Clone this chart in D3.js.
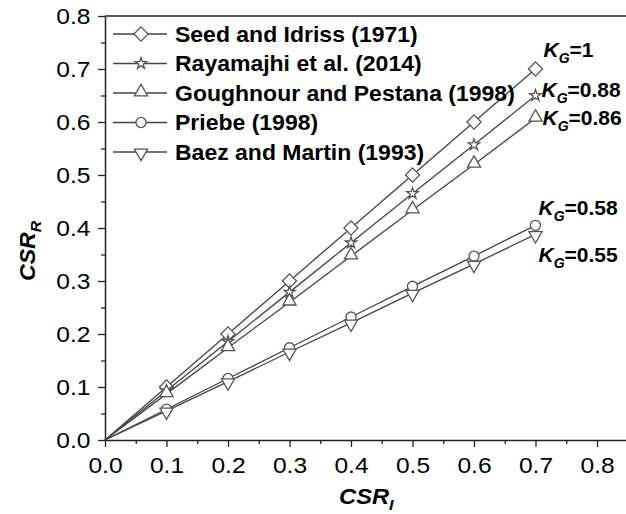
<!DOCTYPE html>
<html>
<head>
<meta charset="utf-8">
<script src="https://cdn.jsdelivr.net/npm/d3@7"></script>
<style>
  body { margin: 0; background: #fff; }
  text { font-family: "Liberation Sans", Arial, sans-serif; fill: #000; }
</style>
</head>
<body>
<script>
// data
var csrI = [0.0, 0.1, 0.2, 0.3, 0.4, 0.5, 0.6, 0.7];
var seedIdriss = [0, 0.100, 0.200, 0.300, 0.400, 0.500, 0.600, 0.700];
var rayamajhi = [0, 0.093, 0.186, 0.279, 0.372, 0.465, 0.557, 0.650];
var goughnour = [0, 0.087, 0.174, 0.260, 0.347, 0.434, 0.520, 0.607];
var priebe    = [0, 0.058, 0.116, 0.174, 0.232, 0.290, 0.347, 0.405];
var baez      = [0, 0.055, 0.110, 0.166, 0.221, 0.277, 0.332, 0.388];

var seriesNames = ["Seed and Idriss (1971)", "Rayamajhi et al. (2014)",
  "Goughnour and Pestana (1998)", "Priebe (1998)", "Baez and Martin (1993)"];
var seriesValues = [seedIdriss, rayamajhi, goughnour, priebe, baez];
var kgLabels = ["=1", "=0.88", "=0.86", "=0.58", "=0.55"];

var xTicks = [0, 0.1, 0.2, 0.3, 0.4, 0.5, 0.6, 0.7, 0.8];
var yTicks = [0, 0.1, 0.2, 0.3, 0.4, 0.5, 0.6, 0.7, 0.8];
var minorTicks = [0.05, 0.15, 0.25, 0.35, 0.45, 0.55, 0.65, 0.75];

// layout
var width = 626, height = 514;
var x = d3.scaleLinear().domain([0, 0.85]).range([105, 627.75]);
var y = d3.scaleLinear().domain([0, 0.8]).range([440, 16]);
var markers = ["diamond", "star", "triangle", "circle", "down"];
var kgOffsets = [[8, -12], [6, 1], [7, 7], [3, -10], [3, 28]];

var svg = d3.select("body").append("svg")
  .attr("width", width).attr("height", height);

// frame top line
svg.append("line")
  .attr("x1", x(0)).attr("x2", width).attr("y1", y(0.8)).attr("y2", y(0.8))
  .attr("stroke", "#222").attr("stroke-width", 1.5);

function styleAxis(g) {
  g.selectAll(".domain").attr("stroke", "#222").attr("stroke-width", 1.5);
  g.selectAll(".tick line").attr("stroke", "#222").attr("stroke-width", 1.3);
  g.selectAll("text").attr("font-size", 22).attr("fill", "#111")
    .attr("transform", "scale(1.12,1)");
}

// x axis
var xAxisG = svg.append("g").attr("transform", "translate(0," + y(0) + ")")
  .call(d3.axisBottom(x).tickValues(xTicks).tickSize(7).tickPadding(10)
    .tickFormat(d3.format(".1f")).tickSizeOuter(0));
styleAxis(xAxisG);
var xMinor = svg.append("g").attr("transform", "translate(0," + y(0) + ")")
  .call(d3.axisBottom(x).tickValues(minorTicks).tickSize(4).tickFormat(""));
xMinor.select(".domain").remove();
xMinor.selectAll("line").attr("stroke", "#222").attr("stroke-width", 1.3);

// y axis
var yAxisG = svg.append("g").attr("transform", "translate(" + x(0) + ",0)")
  .call(d3.axisLeft(y).tickValues(yTicks).tickSize(7).tickPadding(6)
    .tickFormat(d3.format(".1f")).tickSizeOuter(0));
styleAxis(yAxisG);
var yMinor = svg.append("g").attr("transform", "translate(" + x(0) + ",0)")
  .call(d3.axisLeft(y).tickValues(minorTicks).tickSize(4).tickFormat(""));
yMinor.select(".domain").remove();
yMinor.selectAll("line").attr("stroke", "#222").attr("stroke-width", 1.3);

// marker shapes
function markerPath(kind) {
  if (kind === "diamond") return d3.symbol().type(d3.symbolSquare).size(100)();
  if (kind === "star") return d3.symbol().type(d3.symbolStar).size(40)();
  if (kind === "circle") return d3.symbol().type(d3.symbolCircle).size(80)();
  return d3.symbol().type(d3.symbolTriangle).size(75)();
}
function markerRotate(kind) {
  if (kind === "diamond") return 45;
  if (kind === "down") return 180;
  return 0;
}
function drawMarker(g, kind, cx, cy) {
  var yoff = kind === "triangle" ? -1 : (kind === "down" ? 1 : 0);
  g.append("path")
    .attr("d", markerPath(kind))
    .attr("transform", "translate(" + cx + "," + (cy + yoff) + ") rotate(" + markerRotate(kind) + ")")
    .attr("fill", "#fff").attr("stroke", "#555").attr("stroke-width", 1.3);
}

var line = d3.line().x(function(d, i) { return x(csrI[i]); }).y(function(d) { return y(d); });

seriesValues.forEach(function(vals, s) {
  var g = svg.append("g");
  g.append("path").datum(vals).attr("d", line)
    .attr("fill", "none").attr("stroke", "#444").attr("stroke-width", 1.3);
  vals.forEach(function(v, i) {
    if (i === 0) return;
    drawMarker(g, markers[s], x(csrI[i]), y(v));
  });

  // K_G label near last point
  var last = vals.length - 1;
  var t = svg.append("text")
    .attr("x", x(csrI[last]) + kgOffsets[s][0])
    .attr("y", y(vals[last]) + kgOffsets[s][1])
    .attr("font-size", 21).attr("font-weight", "bold");
  t.append("tspan").attr("font-style", "italic").text("K");
  t.append("tspan").attr("font-style", "italic").attr("font-size", 14).attr("dy", 6).text("G");
  t.append("tspan").attr("dy", -6).text(kgLabels[s]);
});

// legend
var legendY0 = 34, legendStep = 29.5;
seriesNames.forEach(function(name, s) {
  var ly = legendY0 + s * legendStep;
  var g = svg.append("g");
  g.append("line").attr("x1", 113).attr("x2", 167).attr("y1", ly).attr("y2", ly)
    .attr("stroke", "#444").attr("stroke-width", 1.3);
  drawMarker(g, markers[s], 141, ly);
  g.append("text").attr("transform", "translate(175," + ly + ") scale(1.07,1)")
    .attr("dy", "0.36em")
    .attr("font-size", 21.5).attr("font-weight", "bold").text(name);
});

// axis titles
var xt = svg.append("text").attr("transform", "translate(339,504) scale(1.08,1)")
  .attr("font-size", 22).attr("font-weight", "bold").attr("font-style", "italic");
xt.append("tspan").text("CSR");
xt.append("tspan").attr("font-size", 15).attr("dy", 6).text("I");

var yt = svg.append("text").attr("transform", "translate(35,281) rotate(-90) scale(1.05,1)")
  .attr("font-size", 22).attr("font-weight", "bold").attr("font-style", "italic");
yt.append("tspan").text("CSR");
yt.append("tspan").attr("font-size", 15).attr("dy", 6).text("R");
</script>
</body>
</html>
